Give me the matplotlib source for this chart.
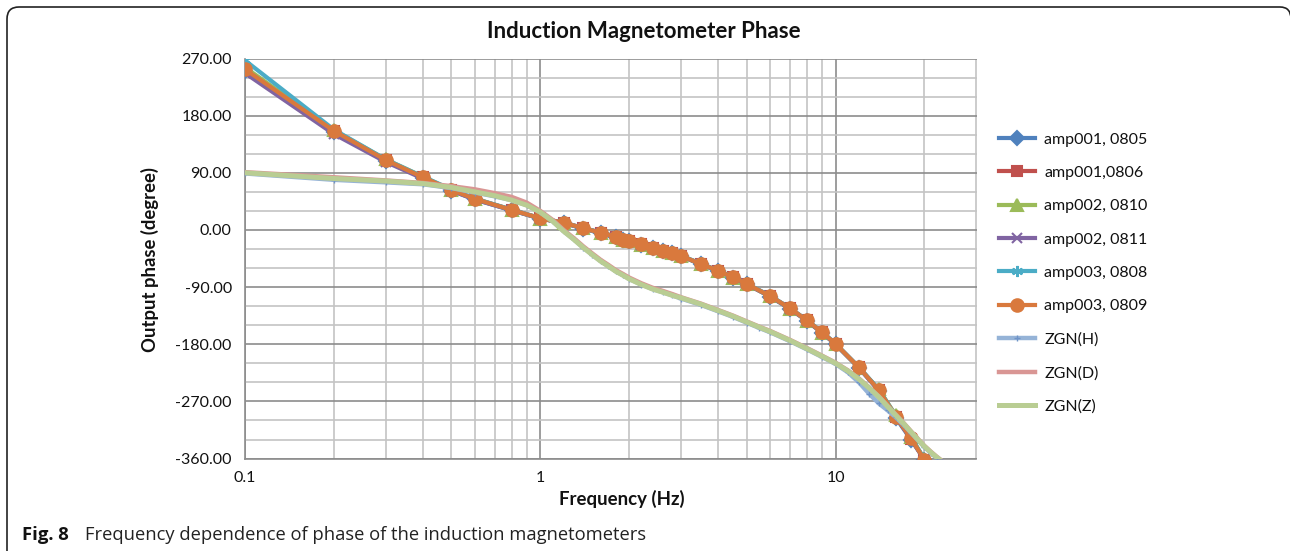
import matplotlib
matplotlib.use("Agg")
import matplotlib.pyplot as plt
from matplotlib.patches import PathPatch
from matplotlib.path import Path
from matplotlib.transforms import Affine2D
from matplotlib.ticker import FixedLocator, NullFormatter, FixedFormatter

# ---------------- data ----------------
freq_amp = [0.1, 0.2, 0.3, 0.4, 0.5, 0.6, 0.8, 1.0, 1.2, 1.4, 1.6, 1.8, 1.9, 2.0, 2.2, 2.4,
            2.6, 2.8, 3.0, 3.5, 4, 4.5, 5, 6, 7, 8, 9, 10, 12, 14, 16, 18, 20]

amp001_0805 = [250, 155, 109, 82, 62, 48, 31, 18, 11, 2, -5, -11, -16, -18, -23, -28,
               -33, -37, -41, -54, -64, -75, -85, -105, -124, -143, -162, -180, -217, -253, -296, -330, -362]
amp001_0806 = [252, 156, 110, 83, 63, 49, 32, 18.5, 11.5, 3, -4, -10.5, -15.5, -17, -22.5, -28,
               -32.5, -37, -41, -53.5, -64, -74.5, -85, -104, -123, -142.5, -161, -179.5, -216.5, -252, -294, -329, -362]
amp002_0810 = [256, 157, 111, 84, 63, 49, 31.5, 18, 11, 2.5, -4.5, -11, -16, -17.5, -23, -28,
               -33, -37, -41, -54, -64.5, -75, -85.5, -104.5, -124, -143, -162, -180, -217, -251, -292, -326, -361]
amp002_0811 = [247, 151, 107, 81, 62, 48, 31, 18, 11, 2.5, -4.5, -11, -16, -17.5, -23, -28,
               -33, -37, -41, -54, -64.5, -75, -85.5, -104.5, -124, -143, -162, -180, -217, -252, -294, -328, -362]
amp003_0808 = [267, 158, 111, 84, 64, 49.5, 32, 18.5, 11.5, 3, -4, -10.5, -15.5, -17, -22.5, -27.5,
               -32.5, -36.5, -40.5, -53, -64, -74, -84.5, -103.5, -123, -142, -160.5, -179, -216, -251, -293, -327, -361]
amp003_0809 = [253, 156, 110, 83, 63, 49, 31.5, 18.4, 11.5, 2.7, -4.3, -10.6, -15.7, -17.3, -22.5, -27.9,
               -32.6, -36.7, -40.9, -53.5, -64.1, -74.5, -85, -104, -123.3, -142.5, -161, -179.5, -216.5, -252, -294, -328, -362]

freq_zgn = [0.1, 0.2, 0.3, 0.4, 0.5, 0.6, 0.7, 0.8, 0.9, 1.0, 1.1, 1.2, 1.3, 1.4, 1.5, 1.6,
            1.7, 1.8, 1.9, 2.0, 2.2, 2.4, 2.6, 2.8, 3.0, 3.5, 4.0, 4.5, 5.0, 5.5, 6, 7,
            8, 9, 10, 11, 12, 13, 14, 15, 16, 17, 18, 19, 20, 21, 22, 23]
zgn_h = [89, 79, 75, 72, 66, 59, 53, 47, 39, 28, 14, -2, -15, -28, -39, -49,
         -57, -65, -71, -77, -86, -93, -98, -103, -108, -118, -128, -137, -146, -154, -161, -175,
         -188, -200, -211, -224, -240, -258, -273, -284, -295, -307, -319, -331, -342, -351, -359, -366]
zgn_d = [91, 83, 78, 74, 69, 64, 58, 52, 43, 30, 16, 0, -13, -26, -37, -47,
         -55, -63, -69, -75, -84, -91, -96, -101, -106, -116, -126, -135, -144, -152, -159, -173,
         -186, -198, -209, -221, -234, -248, -262, -277, -291, -304, -317, -329, -340, -349, -357, -364]
zgn_z = [90, 81, 77, 73, 67, 60, 54, 47, 39, 28, 14, -2, -15, -28, -39, -49,
         -57, -65, -71, -77, -86, -93, -98, -103, -107, -117, -127, -136, -145, -153, -160, -174,
         -187, -199, -210, -222, -235, -249, -263, -278, -292, -305, -318, -330, -341, -350, -358, -365]

y_ticks = [270, 180, 90, 0, -90, -180, -270, -360]
y_tick_labels = ["270.00", "180.00", "90.00", "0.00", "-90.00", "-180.00", "-270.00", "-360.00"]
x_ticks = [0.1, 1, 10]
x_tick_labels = ["0.1", "1", "10"]

# ---------------- figure ----------------
W, H = 1290, 551
fig = plt.figure(figsize=(W / 100, H / 100), dpi=100)
FONT = "Lato"
plt.rcParams["font.family"] = FONT

# rounded frame (open at bottom, right edge just off canvas), pixel coords from top-left
px = Affine2D().scale(1 / W, -1 / H).translate(0, 1) + fig.transFigure
verts = [(7, 600), (7, 19), (7, 7), (19, 7), (1280, 7), (1291, 7), (1291, 19), (1291, 600)]
codes = [Path.MOVETO, Path.LINETO, Path.CURVE3, Path.CURVE3, Path.LINETO,
         Path.CURVE3, Path.CURVE3, Path.LINETO]
frame = PathPatch(Path(verts, codes), transform=px, fill=False, edgecolor="#222222", lw=1.2)
fig.patches.append(frame)

left, right, top, bottom = 245, 976.5, 58.5, 458.6
ax = fig.add_axes([left / W, 1 - bottom / H, (right - left) / W, (bottom - top) / H])

ax.set_xscale("log")
ax.set_xlim(0.1, 30)
ax.set_ylim(-360, 270)

amp_series = [
    ("amp001, 0805", amp001_0805, "#4F81BD", "D", 7),
    ("amp001,0806", amp001_0806, "#C0504D", "s", 7),
    ("amp002, 0810", amp002_0810, "#9BBB59", "^", 8),
    ("amp002, 0811", amp002_0811, "#8064A2", "x", 7),
    ("amp003, 0808", amp003_0808, "#4BACC6", (6, 2, 0), 8),
    ("amp003, 0809", amp003_0809, "#D9793D", "o", 9),
]
for lab, vals, col, mk, ms in amp_series:
    ax.plot(freq_amp, vals, color=col, lw=3.0, marker=mk, ms=ms, mec=col, mfc=col,
            mew=1.5, label=lab, zorder=3)

ax.plot(freq_zgn, zgn_h, color="#95B3D7", lw=3.2, marker="+", ms=5, mew=1.0,
        mec="#6F94C8", label="ZGN(H)", zorder=4)
ax.plot(freq_zgn, zgn_d, color="#D99694", lw=3.2, label="ZGN(D)", zorder=4)
ax.plot(freq_zgn, zgn_z, color="#B9CD93", lw=3.6, label="ZGN(Z)", zorder=4)

# grid
ax.xaxis.set_major_locator(FixedLocator(x_ticks))
ax.xaxis.set_major_formatter(FixedFormatter(x_tick_labels))
minor_x = [0.2, 0.3, 0.4, 0.5, 0.6, 0.7, 0.8, 0.9, 2, 3, 4, 5, 6, 7, 8, 9, 20, 30]
ax.xaxis.set_minor_locator(FixedLocator(minor_x))
ax.xaxis.set_minor_formatter(NullFormatter())
ax.yaxis.set_major_locator(FixedLocator(y_ticks))
ax.yaxis.set_major_formatter(FixedFormatter(y_tick_labels))
ax.yaxis.set_minor_locator(FixedLocator(list(range(-360, 271, 30))))
ax.grid(True, which="major", color="#8C8C8C", lw=1.2, zorder=0)
ax.grid(True, which="minor", color="#C4C4C4", lw=1.2, zorder=0)
ax.set_axisbelow(True)
ax.tick_params(which="both", length=0)
ax.tick_params(axis="y", pad=9.5, labelsize=11.5, labelcolor="#111111")
ax.tick_params(axis="x", pad=9, labelsize=11.5, labelcolor="#111111")
for side in ["top", "right"]:
    ax.spines[side].set_visible(False)
for side in ["left", "bottom"]:
    ax.spines[side].set_color("#8C8C8C")
    ax.spines[side].set_linewidth(1.2)

# titles
fig.text(644 / W, 1 - 32 / H, "Induction Magnetometer Phase", ha="center", va="center",
         fontsize=16, fontweight="bold", color="#111111")
fig.text(622 / W, 1 - 499 / H, "Frequency (Hz)", ha="center", va="center",
         fontsize=13.4, fontweight="bold", color="#111111")
fig.text(150 / W, 1 - 260 / H, "Output phase (degree)", ha="center", va="center",
         rotation=90, fontsize=13.3, fontweight="bold", color="#111111")

# legend
leg = ax.legend(loc="upper left", bbox_to_anchor=(993 / W, 1 - 126 / H),
                bbox_transform=fig.transFigure, frameon=False, fontsize=11.5,
                handlelength=2.2, handletextpad=0.6, labelspacing=1.2,
                borderaxespad=0)
for t in leg.get_texts():
    t.set_color("#111111")

# caption
fig.text(22 / W, 1 - 535 / H, "Fig. 8", ha="left", va="center", fontsize=13.3,
         fontweight="bold", family="Open Sans", color="#111111")
fig.text(85 / W, 1 - 535 / H, "Frequency dependence of phase of the induction magnetometers",
         ha="left", va="center", fontsize=13.2, family="Open Sans", color="#222222")

fig.savefig("out.png", dpi=100)
